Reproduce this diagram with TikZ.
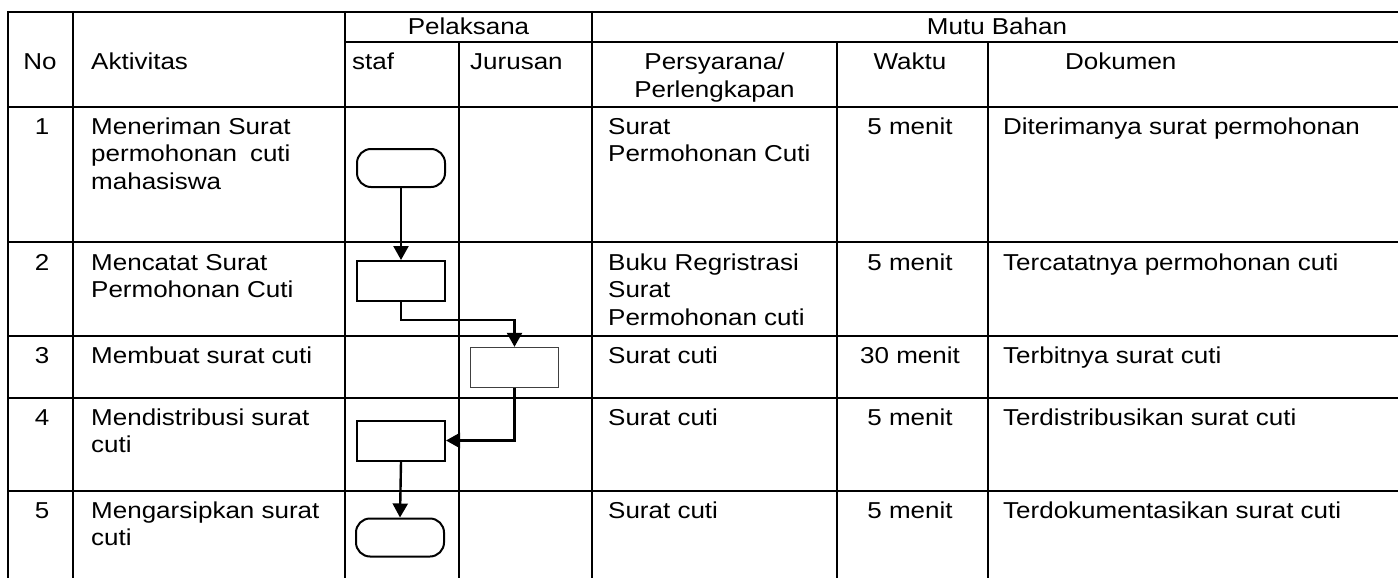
\documentclass[tikz,border=0pt]{standalone}
\usepackage{fontspec}
\usepackage{calc}
\setmainfont{Liberation Sans}[FakeStretch=1.13]
\usetikzlibrary{arrows.meta}
\begin{document}
\begin{tikzpicture}[x=1pt,y=-1pt,
 txt/.style={anchor=base west,inner sep=0pt,font=\fontsize{23}{27.5}\selectfont},
 ctxt/.style={anchor=base,inner sep=0pt,font=\fontsize{23}{27.5}\selectfont},
 grid/.style={line width=2pt},
 term/.style={draw,line width=2pt,rounded corners=14pt,minimum width=88pt,minimum height=38pt,inner sep=0pt},
 proc/.style={draw,line width=2pt,minimum width=88pt,minimum height=40pt,inner sep=0pt},
 proclight/.style={draw=black!75,line width=1.3pt,minimum width=88pt,minimum height=40pt,inner sep=0pt},
 conn/.style={line width=2.4pt,-{Triangle[length=14pt,width=15pt]}}]
\useasboundingbox (0,0) rectangle (1398,578);
% grid
\draw[grid] (8,12) -- (1404,12);
\draw[grid] (345,42) -- (1404,42);
\foreach \yy in {107,242,336,398,491}{\draw[grid] (8,\yy) -- (1404,\yy);}
\draw[grid] (8,11) -- (8,582);
\draw[grid] (73,11) -- (73,582);
\draw[grid] (345,11) -- (345,582);
\draw[grid] (459,42) -- (459,582);
\draw[grid] (592,11) -- (592,582);
\draw[grid] (837,42) -- (837,582);
\draw[grid] (988,42) -- (988,582);
% header
\node[ctxt] (pel) at (468.5,35) {Pelaksana};
\node[ctxt] (mutu) at (997,35) {Mutu Bahan};
\node[ctxt] (no) at (40,70) {No};
\node[txt] (akt) at (91,70) {Aktivitas};
\node[txt] (staf) at (352,70) {staf};
\node[txt] (jur) at (470,70) {Jurusan};
\node[ctxt] (pers1) at (714.5,70) {Persyarana/};
\node[ctxt] (pers2) at (714.5,97.5) {Perlengkapan};
\node[ctxt] (waktu) at (910,70) {Waktu};
\node[txt] (dok) at (1065,70) {Dokumen};
% row 1
\node[ctxt] (n1) at (42,134) {1};
\node[txt] (a1a) at (91,134) {Meneriman Surat};
\node[txt] (a1b) at (91,161.5) {\makebox[\widthof{Meneriman Surat}][s]{permohonan cuti}};
\node[txt] (a1c) at (91,189) {mahasiswa};
\node[txt] (p1a) at (608,134) {Surat};
\node[txt] (p1b) at (608,161.5) {Permohonan Cuti};
\node[ctxt] (w1) at (910,134) {5 menit};
\node[txt] (d1) at (1003,134) {Diterimanya surat permohonan};
% row 2
\node[ctxt] (n2) at (42,270) {2};
\node[txt] (a2a) at (91,270) {Mencatat Surat};
\node[txt] (a2b) at (91,297.5) {Permohonan Cuti};
\node[txt] (p2a) at (608,270) {Buku Regristrasi};
\node[txt] (p2b) at (608,297.5) {Surat};
\node[txt] (p2c) at (608,325) {Permohonan cuti};
\node[ctxt] (w2) at (910,270) {5 menit};
\node[txt] (d2) at (1003,270) {Tercatatnya permohonan cuti};
% row 3
\node[ctxt] (n3) at (42,363) {3};
\node[txt] (a3a) at (91,363) {Membuat surat cuti};
\node[txt] (p3a) at (608,363) {Surat cuti};
\node[ctxt] (w3) at (910,363) {30 menit};
\node[txt] (d3) at (1003,363) {Terbitnya surat cuti};
% row 4
\node[ctxt] (n4) at (42,425) {4};
\node[txt] (a4a) at (91,425) {Mendistribusi surat};
\node[txt] (a4b) at (91,452.5) {cuti};
\node[txt] (p4a) at (608,425) {Surat cuti};
\node[ctxt] (w4) at (910,425) {5 menit};
\node[txt] (d4) at (1003,425) {Terdistribusikan surat cuti};
% row 5
\node[ctxt] (n5) at (42,518) {5};
\node[txt] (a5a) at (91,518) {Mengarsipkan surat};
\node[txt] (a5b) at (91,545.5) {cuti};
\node[txt] (p5a) at (608,518) {Surat cuti};
\node[ctxt] (w5) at (910,518) {5 menit};
\node[txt] (d5) at (1003,518) {Terdokumentasikan surat cuti};
% flow shapes
\node[term] (s1) at (401,168) {};
\node[proc] (s2) at (401,281) {};
\node[proclight] (s3) at (514.5,367.5) {};
\node[proc] (s4) at (401,440.5) {};
\node[term] (s5) at (400,537.5) {};
% connectors
\draw[conn] (s1.south) -- (s2.north);
\draw[conn] (s2.south) -- ++(0,18) -| (s3.north);
\draw[conn] (s3.south) |- (s4.east);
\draw[conn] (s4.south) -- (s5.north);
\end{tikzpicture}
\end{document}
